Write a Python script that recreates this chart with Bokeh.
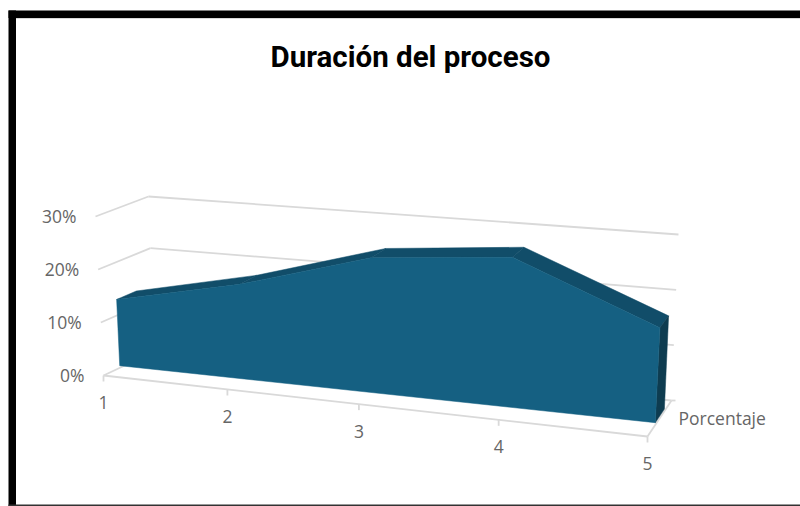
from bokeh.plotting import figure
from bokeh.models import Range1d
from bokeh.core.properties import value
from bokeh.embed import file_html
from bokeh.resources import INLINE

# ---- data ----
title_text = "Duración del proceso"
categories = ["1", "2", "3", "4", "5"]
porcentaje = [0.13, 0.18, 0.25, 0.272, 0.17]
y_ticks = [0.0, 0.10, 0.20, 0.30]
y_labels = ["0%", "10%", "20%", "30%"]
series_name = "Porcentaje"

# ---- style ----
FRONT = "#156082"
TOP = "#114D69"
SIDE = "#0E3C50"
GRID = "#D9D9D9"
TEXT = "#666666"
FONT = "Open Sans"
TITLE_FONT = "Roboto"

W, H = 800, 506
p = figure(width=W, height=H, output_backend="svg", toolbar_location=None,
           x_range=Range1d(0, W), y_range=Range1d(H, 0),
           x_axis_type="linear", min_border=0, outline_line_color=None,
           background_fill_color="white", border_fill_color="white")
p.axis.visible = False
p.grid.visible = False

# ---- 3D box projection ----
VMAX = y_ticks[-1]
FL0, FL1 = (103, 375), (95, 216)
BL0, BL1 = (154, 351), (148, 196)
FR0, FR1 = (647, 436), (656, 262)
BR0, BR1 = (671, 400), (678, 234)
PERSP = 0.13
Z_FRONT, Z_BACK = 0.32, 0.70
AREA_BASE = 0.004


def lerp(a, b, t):
    return (a[0] + (b[0] - a[0]) * t, a[1] + (b[1] - a[1]) * t)


def proj(i, v, z):
    u = i / (len(categories) - 1)
    u = u / (1 + PERSP * (1 - u))
    t = v / VMAX
    left = lerp(lerp(FL0, FL1, t), lerp(BL0, BL1, t), z)
    right = lerp(lerp(FR0, FR1, t), lerp(BR0, BR1, t), z)
    return lerp(left, right, u)


last = len(categories) - 1


def seg(a, b, color=GRID, width=1.8):
    p.line([a[0], b[0]], [a[1], b[1]], line_color=color, line_width=width)


# walls
for v in y_ticks:
    seg(proj(0, v, 0), proj(0, v, 1))
    seg(proj(0, v, 1), proj(last, v, 1))
# floor
seg(proj(0, 0, 0), proj(last, 0, 0))
seg(proj(last, 0, 0), proj(last, 0, 1))
br = proj(last, 0, 1)
seg(br, (br[0] + 4, br[1]))
for i in range(len(categories)):
    a = proj(i, 0, 0)
    seg(a, (a[0], a[1] + 6))

# area: top band, side panel, front face
for i in range(last):
    a, b = proj(i, porcentaje[i], Z_FRONT), proj(i + 1, porcentaje[i + 1], Z_FRONT)
    c, d = proj(i + 1, porcentaje[i + 1], Z_BACK), proj(i, porcentaje[i], Z_BACK)
    p.patch([a[0], b[0], c[0], d[0]], [a[1], b[1], c[1], d[1]],
            fill_color=TOP, line_color=TOP, line_width=0.5)
s = [proj(last, porcentaje[last], Z_FRONT), proj(last, porcentaje[last], Z_BACK),
     proj(last, AREA_BASE, Z_BACK), proj(last, AREA_BASE, Z_FRONT)]
p.patch([q[0] for q in s], [q[1] for q in s], fill_color=SIDE, line_color=SIDE, line_width=0.5)
top = [proj(i, v, Z_FRONT) for i, v in enumerate(porcentaje)]
bottom = [proj(last, AREA_BASE, Z_FRONT), proj(0, AREA_BASE, Z_FRONT)]
front = top + bottom
p.patch([q[0] for q in front], [q[1] for q in front], fill_color=FRONT, line_color=FRONT, line_width=0.5)

# texts
SIZE = "17.5px"
for v, lab in zip(y_ticks, y_labels):
    a = proj(0, v, 0)
    p.text([a[0] - 19], [a[1] - 1], text=[lab], text_font=value(FONT), text_font_size=SIZE,
           text_color=TEXT, text_align="right", text_baseline="middle")
for i, lab in enumerate(categories):
    a = proj(i, 0, 0)
    p.text([a[0]], [a[1] + 27], text=[lab], text_font=value(FONT), text_font_size=SIZE,
           text_color=TEXT, text_align="center", text_baseline="middle")
p.text([br[0] + 7], [br[1] + 17], text=[series_name], text_font=value(FONT), text_font_size=SIZE,
       text_color=TEXT, text_align="left", text_baseline="middle")
p.text([410], [56], text=[title_text], text_font=value(TITLE_FONT), text_font_size="29.5px",
       text_font_style="bold", text_color="#000000", text_align="center", text_baseline="middle")

# frame of the screenshot
p.quad(left=[8], right=[W], top=[10], bottom=[17.5], fill_color="black", line_color=None)
p.quad(left=[8], right=[15.5], top=[10], bottom=[H], fill_color="black", line_color=None)
p.quad(left=[8], right=[W], top=[504], bottom=[H], fill_color="#333333", line_color=None)
p.line([15.5, W], [18, 18], line_color=GRID, line_width=1)

open("out.html", "w").write(file_html(p, INLINE))
